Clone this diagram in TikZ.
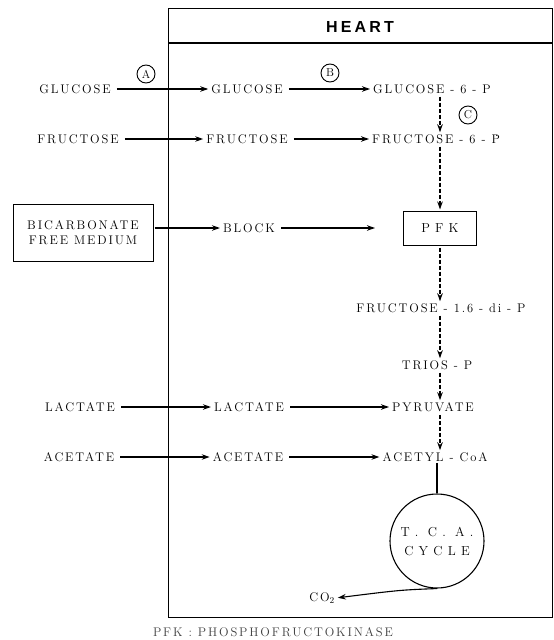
\documentclass[tikz,border=0pt]{standalone}
\usepackage{fontspec}
\usetikzlibrary{arrows.meta,calc}
\newfontfamily\tw{lmroman12-regular.otf}[LetterSpace=15]
\newfontfamily\twwide{lmroman12-regular.otf}[LetterSpace=40]
\newfontfamily\hf{Liberation Sans}[LetterSpace=20]
\begin{document}
\begin{tikzpicture}[x=1pt,y=-1pt,
  txt/.style={font=\tw\fontsize{12.5}{15}\selectfont, inner sep=1pt},
  wide/.style={font=\twwide\fontsize{13}{16}\selectfont},
  arr/.style={-{Stealth[length=8pt,width=5.5pt]}, line width=1.1pt, shorten <=5pt, shorten >=2pt},
  darr/.style={-{Stealth[length=8pt,width=5.5pt]}, line width=1.6pt, dash pattern=on 4pt off 2pt, shorten <=2pt, shorten >=1pt},
  lbl/.style={circle, draw, line width=0.9pt, minimum size=18pt, inner sep=0pt, font=\tw\fontsize{11.5}{13}\selectfont},
  frame/.style={draw, line width=1.2pt}
]
\useasboundingbox (0,0) rectangle (554,640);
% heart frame
\node[frame, minimum width=384pt, minimum height=609pt, anchor=north west, inner sep=0pt] (heart) at (168,8) {};
\draw[line width=1.2pt] ($(heart.north west)+(0,35)$) -- ($(heart.north east)+(0,35)$);
\node[font=\hf\bfseries\fontsize{16}{18}\selectfont] (title) at (360,27) {HEART};
% nodes
\node[txt] (glo) at (75,89) {GLUCOSE};
\node[txt] (gli) at (247,89) {GLUCOSE};
\node[txt, anchor=west] (g6p) at (372,89) {GLUCOSE - 6 - P};
\node[txt] (fro) at (78,139) {FRUCTOSE};
\node[txt] (fri) at (247,139) {FRUCTOSE};
\node[txt, anchor=west] (f6p) at (371,139) {FRUCTOSE - 6 - \.{P}};
\node[txt, frame, line width=1pt, minimum width=140pt, minimum height=57pt, align=center] (bic) at (83,233) {BICARBONATE\\FREE MEDIUM};
\node[txt] (blk) at (249,228) {BLOCK};
\node[txt, wide, frame, line width=1pt, minimum width=73pt, minimum height=34pt] (pfk) at (440,228) {PFK};
\node[txt] (f16) at (441,308) {FRUCTOSE - 1.6 - di - P};
\node[txt] (tri) at (437,365) {TRIOS - P};
\node[txt] (lao) at (80,407) {LACTATE};
\node[txt] (lai) at (249,407) {LACTATE};
\node[txt] (pyr) at (433,407) {PYRUVATE};
\node[txt] (aco) at (79,457) {ACETATE};
\node[txt] (aci) at (248,457) {ACETATE};
\node[txt] (acc) at (435,457) {ACETYL - CoA};
\node[txt, wide, circle, draw, line width=1.1pt, minimum size=94pt, inner sep=0pt, align=center] (tca) at (437,541) {T. C. A.\\[3pt]CYCLE};
\node[txt] (co2) at (322,598) {CO$_2$};
\node[txt, text=black!75] (foot) at (273,632) {PFK : PHOSPHOFRUCTOKINASE};
\node[lbl] (A) at (146,74) {A};
\node[lbl] (B) at (330,73) {B};
\node[lbl] (C) at (468,115) {C};
% horizontal arrows
\draw[arr] (glo) -- (gli);
\draw[arr] (gli) -- (g6p);
\draw[arr] (fro) -- (fri);
\draw[arr] (fri) -- (f6p);
\draw[arr, shorten <=1pt] (bic.east |- blk) -- (blk);
\draw[arr, shorten >=28pt] (blk) -- (pfk);
\draw[arr] (lao) -- (lai);
\draw[arr] (lai) -- (pyr);
\draw[arr] (aco) -- (aci);
\draw[arr] (aci) -- (acc);
% vertical dashed chain
\draw[darr] (g6p.south -| pfk.center) -- (f6p.north -| pfk.center);
\draw[darr] (f6p.south -| pfk.center) -- (pfk.north);
\draw[darr] (pfk.south) -- (f16.north -| pfk.center);
\draw[darr] (f16.south -| pfk.center) -- (tri.north -| pfk.center);
\draw[darr] (tri.south -| pfk.center) -- (pyr.north -| pfk.center);
\draw[darr] (pyr.south -| pfk.center) -- (acc.north -| pfk.center);
\draw[line width=1.1pt] (acc.south -| tca.north) -- (tca.north);
\draw[arr, shorten <=0pt] (tca.south) .. controls (400,590) .. (co2.east);
\end{tikzpicture}
\end{document}
